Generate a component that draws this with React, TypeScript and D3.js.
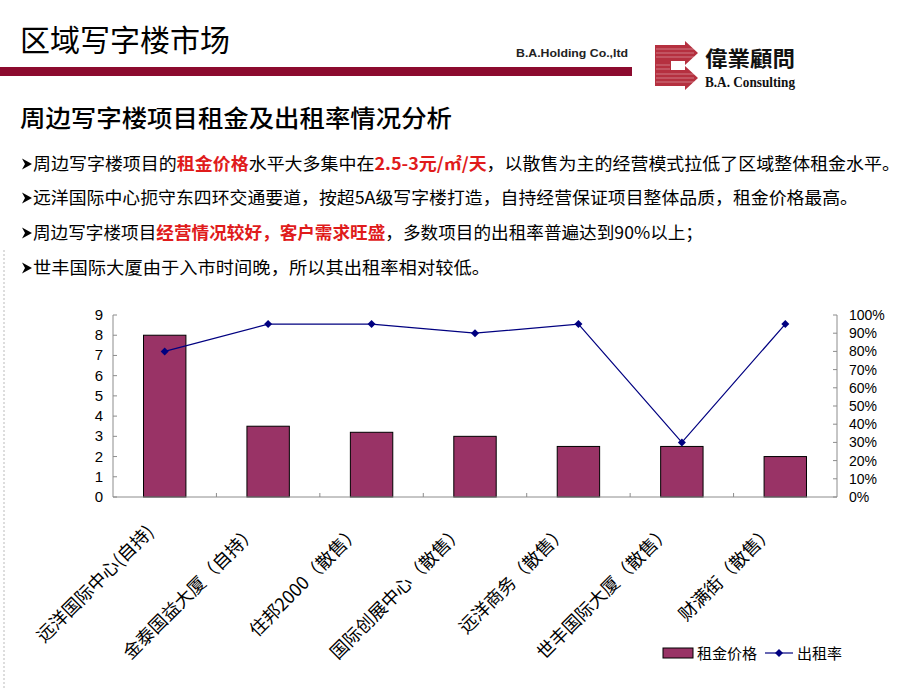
import React from 'react';
import { scaleBand, scaleLinear, line } from 'd3';

const categories = [
  '远洋国际中心(自持)',
  '金泰国益大厦（自持）',
  '住邦2000（散售）',
  '国际创展中心（散售）',
  '远洋商务（散售）',
  '世丰国际大厦（散售）',
  '财满街（散售）',
];
const rentValues = [8, 3.5, 3.2, 3, 2.5, 2.5, 2];
const occupancyValues = [0.8, 0.95, 0.95, 0.9, 0.95, 0.3, 0.95];
const leftTicks = [0, 1, 2, 3, 4, 5, 6, 7, 8, 9];
const rightTicks = [0, 0.1, 0.2, 0.3, 0.4, 0.5, 0.6, 0.7, 0.8, 0.9, 1];
const seriesNames = ['租金价格', '出租率'];

const CJK = '"Noto Sans CJK SC", "Noto Sans", sans-serif';
const ARIAL = '"Liberation Sans", Arial, sans-serif';

const plot = { left: 113, right: 837, top: 315, bottom: 497 };
const barColor = '#993366';
const lineColor = '#000080';
const axisColor = '#8c8c8c';

const Diamond = ({ x, y, r = 4 }: { x: number; y: number; r?: number }) => (
  <path d={`M${x},${y - r}L${x + r},${y}L${x},${y + r}L${x - r},${y}Z`} fill={lineColor} />
);

// filled bullet arrowhead, pointing right
const Bullet = ({ x, y }: { x: number; y: number }) => (
  <path d={`M${x},${y - 5.5}L${x + 10},${y}L${x},${y + 5.5}L${x + 3},${y}Z`} fill="#000" />
);

const App: React.FC = () => {
  const x = scaleBand<string>().domain(categories).range([plot.left, plot.right]).padding(0);
  const yLeft = scaleLinear().domain([0, 9]).range([plot.bottom, plot.top]);
  const yRight = scaleLinear().domain([0, 1]).range([plot.bottom, plot.top]);
  const barW = x.bandwidth() * 0.41;
  const cx = (c: string) => (x(c) as number) + x.bandwidth() / 2;

  const linePath = line<number>()
    .x((_, i) => cx(categories[i]))
    .y(d => yRight(d))(occupancyValues) as string;

  const red = '#e01b1b';

  return (
    <div style={{ position: 'fixed', left: 0, top: 0 }}>
      <svg width={920} height={690} style={{ display: 'block', background: '#fff' }}>
        {/* header */}
        <text x={20} y={51} fontFamily={CJK} fontSize={30} fill="#000">区域写字楼市场</text>
        <rect x={0} y={67} width={632} height={9} fill="#8c0b2f" />
        <text x={516} y={57} fontFamily={ARIAL} fontWeight="bold" fontSize={11} fill="#222"
          textLength={112} lengthAdjust="spacingAndGlyphs">B.A.Holding Co.,ltd</text>

        {/* logo */}
        <g>
          <path d="M655,45 L685,45 L685,41 L698,53 L685,65 L685,61 L671,61 L671,70 L685,70 L685,66 L698,78 L685,90 L685,86 L655,86 Z"
            fill="#b5303f" />
          {[49, 53, 57, 74, 78, 82].map(yy => (
            <line key={yy} x1={656} x2={694} y1={yy} y2={yy} stroke="#fff" strokeWidth={0.6} opacity={0.6} />
          ))}
          {[65, 69].map(yy => (
            <line key={yy} x1={656} x2={670} y1={yy} y2={yy} stroke="#fff" strokeWidth={0.6} opacity={0.6} />
          ))}
        </g>
        <text x={705} y={66} fontFamily='"Noto Sans CJK TC", sans-serif' fontWeight="bold" fontSize={21}
          textLength={90} lengthAdjust="spacingAndGlyphs" fill="#111">偉業顧問</text>
        <text x={705} y={87} fontFamily='"Liberation Serif", serif' fontWeight="bold" fontSize={14}
          textLength={90} lengthAdjust="spacingAndGlyphs" fill="#111">B.A. Consulting</text>

        {/* subtitle */}
        <text x={20} y={127} fontFamily={CJK} fontWeight="500" fontSize={24} fill="#000"
          textLength={432} lengthAdjust="spacingAndGlyphs">周边写字楼项目租金及出租率情况分析</text>

        {/* bullets */}
        {[164, 198, 233, 268].map(by => (
          <Bullet key={by} x={22} y={by} />
        ))}
        <text x={33} y={170} fontFamily={CJK} fontSize={17} fill="#000" textLength={867} lengthAdjust="spacingAndGlyphs">
          周边写字楼项目的<tspan fill={red} fontWeight="bold">租金价格</tspan>水平大多集中在<tspan fill={red} fontWeight="bold">2.5-3元/㎡/天</tspan>，以散售为主的经营模式拉低了区域整体租金水平。
        </text>
        <text x={33} y={204} fontFamily={CJK} fontSize={17} fill="#000" textLength={825} lengthAdjust="spacingAndGlyphs">
          远洋国际中心扼守东四环交通要道，按超5A级写字楼打造，自持经营保证项目整体品质，租金价格最高。
        </text>
        <text x={33} y={239} fontFamily={CJK} fontSize={17} fill="#000" textLength={670} lengthAdjust="spacingAndGlyphs">
          周边写字楼项目<tspan fill={red} fontWeight="bold">经营情况较好，客户需求旺盛</tspan>，多数项目的出租率普遍达到90%以上；
        </text>
        <text x={33} y={274} fontFamily={CJK} fontSize={17} fill="#000" textLength={457} lengthAdjust="spacingAndGlyphs">
          世丰国际大厦由于入市时间晚，所以其出租率相对较低。
        </text>

        {/* left dotted edge */}
        <line x1={4} x2={4} y1={250} y2={690} stroke="#bbb" strokeDasharray="2,2" />

        {/* bars */}
        {categories.map((c, i) => (
          <rect key={c} x={cx(c) - barW / 2} y={yLeft(rentValues[i])} width={barW}
            height={plot.bottom - yLeft(rentValues[i])} fill={barColor} stroke="#000" strokeWidth={1} />
        ))}

        {/* axes */}
        <line x1={plot.left} x2={plot.left} y1={plot.top} y2={plot.bottom} stroke={axisColor} />
        <line x1={plot.right} x2={plot.right} y1={plot.top} y2={plot.bottom} stroke={axisColor} />
        <line x1={plot.left} x2={plot.right} y1={plot.bottom} y2={plot.bottom} stroke={axisColor} />
        {leftTicks.map(t => (
          <g key={t}>
            <line x1={plot.left} x2={plot.left + 4} y1={yLeft(t)} y2={yLeft(t)} stroke={axisColor} />
            <text x={103} y={yLeft(t) + 5} textAnchor="end" fontFamily={ARIAL} fontSize={15} fill="#000">{t}</text>
          </g>
        ))}
        {rightTicks.map(t => (
          <g key={t}>
            <line x1={plot.right - 4} x2={plot.right} y1={yRight(t)} y2={yRight(t)} stroke={axisColor} />
            <text x={849} y={yRight(t) + 5} fontFamily={ARIAL} fontSize={14} fill="#000">{`${Math.round(t * 100)}%`}</text>
          </g>
        ))}
        {categories.slice(1).map(c => (
          <line key={c} x1={x(c) as number} x2={x(c) as number} y1={plot.bottom - 4} y2={plot.bottom} stroke={axisColor} />
        ))}

        {/* occupancy line */}
        <path d={linePath} fill="none" stroke={lineColor} strokeWidth={1.2} />
        {occupancyValues.map((v, i) => (
          <Diamond key={i} x={cx(categories[i])} y={yRight(v)} />
        ))}

        {/* category labels */}
        {categories.map(c => (
          <text key={c} transform={`translate(${cx(c) - 10},${plot.bottom + 36}) rotate(-45)`}
            textAnchor="end" fontFamily={CJK} fontSize={18} fill="#000">{c}</text>
        ))}

        {/* legend */}
        <rect x={663} y={648} width={30} height={10} fill={barColor} stroke="#000" />
        <text x={697} y={659} fontFamily={CJK} fontSize={15} fill="#000">{seriesNames[0]}</text>
        <line x1={765} x2={793} y1={653} y2={653} stroke={lineColor} strokeWidth={1.2} />
        <Diamond x={779} y={653} />
        <text x={797} y={659} fontFamily={CJK} fontSize={15} fill="#000">{seriesNames[1]}</text>
      </svg>
    </div>
  );
};

export default App;
